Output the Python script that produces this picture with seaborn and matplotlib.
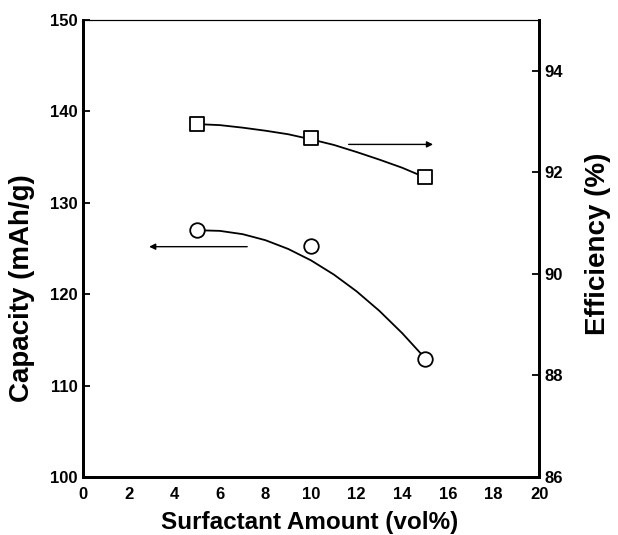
import matplotlib
matplotlib.use("Agg")
import matplotlib.pyplot as plt
import seaborn as sns
import pandas as pd

# measured points
surfactant = [5, 10, 15]
capacity = [127.0, 125.3, 112.9]
efficiency = [92.95, 92.68, 91.90]

# fitted trend lines
fit_x = [5, 6, 7, 8, 9, 10, 11, 12, 13, 14, 15]
capacity_fit = [127.0, 126.93, 126.57, 125.91, 124.95, 123.7, 122.15, 120.31, 118.17, 115.73, 113.0]
efficiency_fit = [92.95, 92.93, 92.88, 92.82, 92.75, 92.65, 92.54, 92.40, 92.25, 92.09, 91.90]

x_ticks = [0, 2, 4, 6, 8, 10, 12, 14, 16, 18, 20]
cap_ticks = [100, 110, 120, 130, 140, 150]
eff_ticks = [86, 88, 90, 92, 94]

sns.set_style("white")
plt.rcParams['font.family'] = ['Liberation Sans', 'DejaVu Sans']
plt.rcParams['font.weight'] = 'bold'
for key in ('text.color', 'xtick.color', 'ytick.color', 'axes.labelcolor'):
    plt.rcParams[key] = 'black'

df_pts = pd.DataFrame({'x': surfactant, 'cap': capacity, 'eff': efficiency})
df_fit = pd.DataFrame({'x': fit_x, 'cap': capacity_fit, 'eff': efficiency_fit})

fig = plt.figure(figsize=(6.18, 5.35), dpi=100)
ax = fig.add_axes([0.1343, 0.1084, 0.738, 0.8542])
ax2 = ax.twinx()

# capacity (left axis)
sns.lineplot(data=df_fit, x='x', y='cap', ax=ax, color='black', lw=1.3)
sns.scatterplot(data=df_pts, x='x', y='cap', ax=ax, marker='o', s=110,
                facecolor='white', edgecolor='black', linewidth=1.3, zorder=3)

# efficiency (right axis)
sns.lineplot(data=df_fit, x='x', y='eff', ax=ax2, color='black', lw=1.3)
sns.scatterplot(data=df_pts, x='x', y='eff', ax=ax2, marker='s', s=95,
                facecolor='white', edgecolor='black', linewidth=1.3, zorder=3)

ax.set_xlim(0, 20)
ax.set_ylim(100, 150)
ax2.set_ylim(86, 95)
ax.set_xticks(x_ticks)
ax.set_yticks(cap_ticks)
ax2.set_yticks(eff_ticks)
ax.set_xlabel('')
ax.set_ylabel('')
ax2.set_ylabel('')

for a in (ax, ax2):
    a.tick_params(direction='in', length=5, width=1.3, labelsize=12, pad=4,
                  colors='black')
ax.tick_params(axis='x', pad=7)
for lab in ax.get_xticklabels() + ax.get_yticklabels() + ax2.get_yticklabels():
    lab.set_fontweight('bold')

for name in ('left', 'bottom', 'right'):
    ax.spines[name].set_linewidth(2)
    ax2.spines[name].set_linewidth(2)
ax.spines['top'].set_linewidth(0.8)
ax2.spines['top'].set_linewidth(0.8)
for s in ax.spines.values():
    s.set_color('black')
for s in ax2.spines.values():
    s.set_color('black')

# arrows pointing to the relevant axis
ax2.annotate('', xy=(15.35, 92.55), xytext=(11.65, 92.55),
             arrowprops=dict(arrowstyle='-|>', color='black', lw=1.0,
                             mutation_scale=9, shrinkA=0, shrinkB=0))
ax.annotate('', xy=(2.9, 125.2), xytext=(7.2, 125.2),
            arrowprops=dict(arrowstyle='-|>', color='black', lw=1.0,
                            mutation_scale=9, shrinkA=0, shrinkB=0))

fig.text(22 / 618, 1 - 288 / 535, 'Capacity (mAh/g)', rotation=90, ha='center', va='center',
         fontsize=20, fontweight='bold')
fig.text(598 / 618, 1 - 244 / 535, 'Efficiency (%)', rotation=90, ha='center', va='center',
         fontsize=20, fontweight='bold')
fig.text(310 / 618, 1 - 522 / 535, 'Surfactant Amount (vol%)', ha='center', va='center',
         fontsize=17.5, fontweight='bold')

fig.savefig('out.png', dpi=100)
